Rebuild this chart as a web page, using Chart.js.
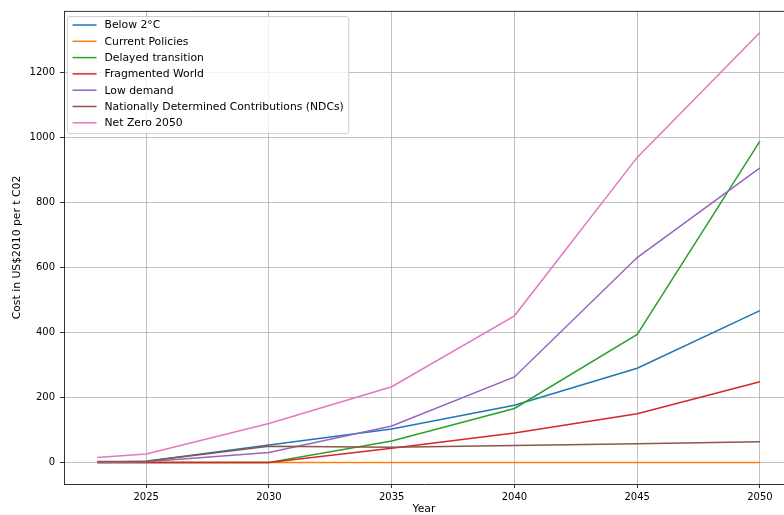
<!DOCTYPE html>
<html>
<head>
<meta charset="utf-8">
<script src="https://cdn.jsdelivr.net/npm/chart.js@4/dist/chart.umd.min.js"></script>
<style>
  html, body { margin: 0; padding: 0; background: #ffffff; }
  #wrap { width: 784px; height: 515px; }
</style>
</head>
<body>
<div id="wrap"><canvas id="c" width="784" height="515"></canvas></div>
<script>
// Carbon price paths by scenario
const years = [2023, 2025, 2030, 2035, 2040, 2045, 2050];
const below2C       = [1, 4, 54, 103, 176, 290, 467];
const currentPol    = [0, 0, 0, 0, 0, 0, 0];
const delayedTrans  = [0, 0, 0, 66, 166, 394, 988];
const fragmented    = [0, 0, 0, 44, 91, 150, 248];
const lowDemand     = [0, 2, 31, 112, 263, 630, 906];
const ndcs          = [3, 4, 50, 47, 52, 58, 64];
const netZero2050   = [15, 26, 120, 233, 451, 938, 1322];

const seriesNames = [
  'Below 2°C',
  'Current Policies',
  'Delayed transition',
  'Fragmented World',
  'Low demand',
  'Nationally Determined Contributions (NDCs)',
  'Net Zero 2050'
];
const seriesValues = [below2C, currentPol, delayedTrans, fragmented, lowDemand, ndcs, netZero2050];
const seriesColors = ['#1f77b4', '#ff7f0e', '#2ca02c', '#d62728', '#9467bd', '#8c564b', '#e377c2'];

const xTicks = [2025, 2030, 2035, 2040, 2045, 2050];
const yTicks = [0, 200, 400, 600, 800, 1000, 1200];

const FONT = 'DejaVu Sans';
const LABEL_SIZE = 10.8;

const datasets = seriesNames.map((name, i) => ({
  label: name,
  data: years.map((yr, j) => ({ x: yr, y: seriesValues[i][j] })),
  borderColor: seriesColors[i],
  backgroundColor: seriesColors[i],
  borderWidth: 1.5,
  pointRadius: 0,
  tension: 0,
  fill: false,
  order: seriesNames.length - i
}));

// Frame line along the top of the plot area
const topSpine = {
  id: 'topSpine',
  afterDraw(chart) {
    const { ctx, chartArea } = chart;
    ctx.save();
    ctx.strokeStyle = '#000';
    ctx.lineWidth = 0.8;
    ctx.beginPath();
    ctx.moveTo(chartArea.left, chartArea.top + 0.4);
    ctx.lineTo(chartArea.right, chartArea.top + 0.4);
    ctx.stroke();
    ctx.restore();
  }
};

// Boxed legend in the upper-left corner of the plot area
const innerLegend = {
  id: 'innerLegend',
  afterDraw(chart) {
    const { ctx, chartArea } = chart;
    const ds = chart.data.datasets;
    ctx.save();
    ctx.font = LABEL_SIZE + 'px "' + FONT + '"';
    let maxW = 0;
    ds.forEach(d => { maxW = Math.max(maxW, ctx.measureText(d.label).width); });
    const bx = chartArea.left + 3.5;
    const by = chartArea.top + 5.5;
    const rowH = 16.3;
    const handleX0 = bx + 5, handleX1 = bx + 29, textX = bx + 37;
    const bw = textX - bx + maxW + 5;
    const bh = rowH * ds.length + 3;
    const r = 2.5;
    ctx.beginPath();
    ctx.moveTo(bx + r, by);
    ctx.lineTo(bx + bw - r, by);
    ctx.arcTo(bx + bw, by, bx + bw, by + r, r);
    ctx.lineTo(bx + bw, by + bh - r);
    ctx.arcTo(bx + bw, by + bh, bx + bw - r, by + bh, r);
    ctx.lineTo(bx + r, by + bh);
    ctx.arcTo(bx, by + bh, bx, by + bh - r, r);
    ctx.lineTo(bx, by + r);
    ctx.arcTo(bx, by, bx + r, by, r);
    ctx.closePath();
    ctx.fillStyle = 'rgba(255,255,255,0.8)';
    ctx.fill();
    ctx.strokeStyle = '#d0d0d0';
    ctx.lineWidth = 1;
    ctx.stroke();
    ds.forEach((d, i) => {
      const y = by + 8.5 + i * rowH;
      ctx.strokeStyle = d.borderColor;
      ctx.lineWidth = 1.5;
      ctx.beginPath();
      ctx.moveTo(handleX0, y);
      ctx.lineTo(handleX1, y);
      ctx.stroke();
      ctx.fillStyle = '#000';
      ctx.textBaseline = 'middle';
      ctx.textAlign = 'left';
      ctx.fillText(d.label, textX, y + 0.5);
    });
    ctx.restore();
  }
};

new Chart(document.getElementById('c'), {
  type: 'line',
  data: { datasets },
  plugins: [topSpine, innerLegend],
  options: {
    responsive: false,
    devicePixelRatio: 1,
    animation: false,
    layout: { padding: { top: 10, right: 0, bottom: 0, left: 0 } },
    plugins: { legend: { display: false }, tooltip: { enabled: false } },
    scales: {
      x: {
        type: 'linear',
        min: 2021.65,
        max: 2050.98,
        afterBuildTicks: s => { s.ticks = xTicks.map(v => ({ value: v })); },
        afterFit: s => { s.height = 31; },
        ticks: {
          color: '#000',
          font: { family: FONT, size: 10 },
          padding: 3,
          maxRotation: 0,
          autoSkip: false,
          callback: v => String(v)
        },
        grid: {
          color: '#b0b0b0',
          lineWidth: 0.8,
          tickColor: '#000',
          tickLength: 4,
          tickWidth: 0.8
        },
        border: { display: true, color: '#000', width: 0.8 },
        title: {
          display: true,
          text: 'Year',
          color: '#000',
          font: { family: FONT, size: LABEL_SIZE },
          padding: { top: 0, bottom: -0.5 }
        }
      },
      y: {
        type: 'linear',
        min: -66.1,
        max: 1388.1,
        afterBuildTicks: s => { s.ticks = yTicks.map(v => ({ value: v })); },
        afterFit: s => { s.width = 64; },
        ticks: {
          color: '#000',
          font: { family: FONT, size: 10 },
          padding: 5,
          autoSkip: false,
          callback: v => String(v)
        },
        grid: {
          color: '#b0b0b0',
          lineWidth: 0.8,
          tickColor: '#000',
          tickLength: 4,
          tickWidth: 0.8
        },
        border: { display: true, color: '#000', width: 0.8 },
        title: {
          display: true,
          text: 'Cost in US$2010 per t C02',
          color: '#000',
          font: { family: FONT, size: LABEL_SIZE },
          padding: { top: 11, bottom: 0 }
        }
      }
    }
  }
});
</script>
</body>
</html>
